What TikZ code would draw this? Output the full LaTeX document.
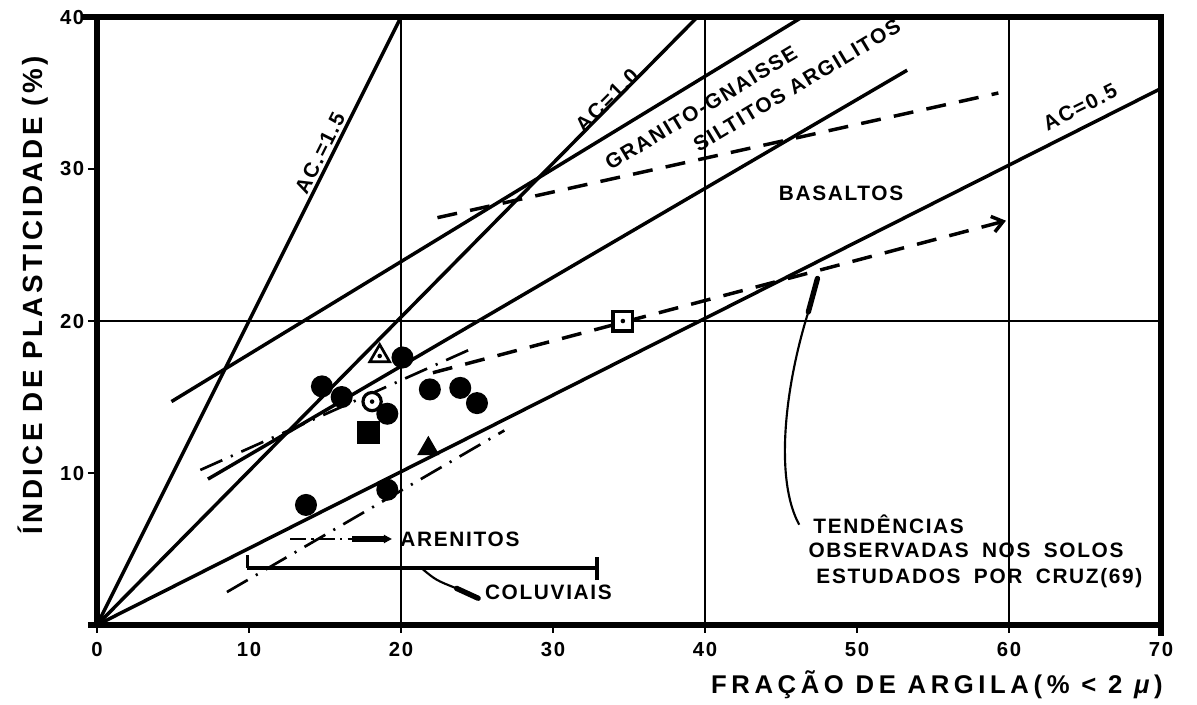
\documentclass[tikz,border=0pt]{standalone}
\usepackage{fontspec}
\setmainfont{Liberation Sans}
\newfontfamily\lblfont{Liberation Sans}[LetterSpace=8]
\newfontfamily\yaxisfont{Liberation Sans}[LetterSpace=12]
\newfontfamily\xaxisfont{Liberation Sans}[LetterSpace=18]
\usetikzlibrary{arrows.meta,shapes.geometric}

\begin{document}
\begin{tikzpicture}[x=0.2cm,y=0.2cm,
    frame/.style={line width=2pt},
    acline/.style={line width=1.3pt},
    gridline/.style={line width=0.6pt},
    leader/.style={line width=0.8pt},
    trend/.style={line width=1.3pt,dash pattern=on 7.5pt off 5pt},
    arenline/.style={line width=1pt,dash pattern=on 9pt off 3.5pt on 0.8pt off 3.5pt},
    lbl/.style={font=\lblfont\bfseries\fontsize{7.8}{9.3}\selectfont,inner sep=0pt},
    ticklbl/.style={font=\lblfont\bfseries\fontsize{7.6}{8}\selectfont,inner sep=0pt},
    soil/.style={circle,fill,inner sep=0pt,minimum size=0.29cm},
    soilsq/.style={rectangle,fill,inner sep=0pt,minimum size=0.3cm},
    soiltri/.style={regular polygon,regular polygon sides=3,fill,inner sep=0pt,minimum size=0.34cm},
    opentri/.style={regular polygon,regular polygon sides=3,draw,line width=1pt,fill=white,inner sep=0pt,minimum size=0.3cm},
    opencirc/.style={circle,draw,line width=1.2pt,fill=white,inner sep=0pt,minimum size=0.24cm},
    opensq/.style={rectangle,draw,line width=1.2pt,fill=white,inner sep=0pt,minimum size=0.26cm},
    pip/.style={circle,fill,inner sep=0pt,minimum size=0.06cm}]
    \useasboundingbox (-6.38,-5.26) rectangle (72.37,41.12);

    % Grid lines
    \draw[gridline] (0,20) -- (70,20);
    \foreach \gx in {20,40,60}
      \draw[gridline] (\gx,0) -- (\gx,40);

    % Frame
    \draw[frame] (-1,40) -- (70,40) -- (70,-0.7);
    \draw[frame] (0,40) -- (0,0);
    \draw[frame] (-0.6,0) -- (70,0);

    % Ticks
    \foreach \t in {10,20,30,40} {
      \draw[gridline] (-0.6,\t) -- (0,\t);
      \node[ticklbl,anchor=east] (yt\t) at (-0.8,\t) {\t};
    }
    \foreach \t in {0,10,...,70} {
      \draw[gridline] (\t,-0.5) -- (\t,0);
      \node[ticklbl] (xt\t) at (\t,-1.64) {\t};
    }

    % Activity lines
    \draw[acline] (0,0) -- (20,40);
    \draw[acline] (0,0) -- (39.5,40);
    \draw[acline] (0,0) -- (70,35.3);
    \node[lbl,rotate=63.4] (ac15) at (14.67,31.05) {AC.=1.5};
    \node[lbl,rotate=45] (ac10) at (33.55,34.54) {AC=1.0};
    \node[lbl,rotate=26.6] (ac05) at (64.67,34.08) {AC=0.5};

    % Rock types
    \draw[acline] (4.9,14.7) -- (46.4,40);
    \draw[acline] (7.3,9.6) -- (53.3,36.5);
    \draw[arenline] (6.8,10.2) -- (24.7,18.2);
    \draw[arenline] (8.55,2.17) -- (26.8,12.8);
    \node[lbl,rotate=31] (granito) at (39.74,34.0) {GRANITO-GNAISSE};
    \node[lbl,rotate=31] (siltito) at (46.05,35.5) {SILTITOS ARGILITOS};
    \node[lbl] (basalto) at (48.95,28.4) {BASALTOS};

    % Trends from Cruz (69)
    \draw[trend] (22.4,26.8) -- (59.3,35.0);
    \draw[trend,-{Straight Barb[length=4pt,width=6pt]}] (22.1,16.6) -- (59.8,26.6);

    % Coluviais range
    \draw[acline] (9.9,3.75) -- (32.9,3.75);
    \draw[acline] (9.9,3.75) -- (9.9,4.6);
    \draw[acline] (32.9,2.95) -- (32.9,4.5);

    % Arenitos and coluviais labels
    \node[lbl] (aren) at (23.88,5.66) {ARENITOS};
    \coordinate (arenfoot) at (12.7,5.66);
    \coordinate (arenmid) at (16.8,5.66);
    \draw[line width=0.7pt,dash pattern=on 6pt off 2pt on 0.8pt off 2pt] (arenfoot) -- (arenmid);
    \draw[line width=2pt,-{Triangle[length=3pt,width=3pt]}] (arenmid) -- ([xshift=-3pt]aren.west);
    \node[lbl] (coluv) at (29.7,2.17) {COLUVIAIS};
    \coordinate (colfoot) at (21.36,3.73);
    \coordinate (colneck) at (23.66,2.41);
    \coordinate (coltip) at (25.08,1.76);
    \draw[leader] (colfoot) .. controls (22.3,2.95) .. (colneck);
    \draw[line width=2pt,line cap=round] (colneck) -- (coltip);

    % Trend label
    \node[lbl,anchor=base west] (tend1) at (47.1,6.05) {TENDÊNCIAS};
    \node[lbl,anchor=base west] (tend2) at (46.78,4.41) {OBSERVADAS\hspace{5pt}NOS\hspace{5pt}SOLOS};
    \node[lbl,anchor=base west] (tend3) at (47.3,2.76) {ESTUDADOS\hspace{5pt}POR\hspace{5pt}CRUZ(69)};
    \coordinate (tendfoot) at (46.2,6.6);
    \coordinate (tendneck) at (46.8,20.6);
    \coordinate (tendtip) at (47.4,22.8);
    \draw[leader] (tendfoot) .. controls (44.6,9.5) and (45.2,15.5) .. (tendneck);
    \draw[line width=2pt,line cap=round] (tendneck) -- (tendtip);

    % Soil samples
    \foreach \px/\py [count=\i] in {20.1/17.6,14.8/15.7,16.1/15.0,19.1/13.9,21.9/15.5,
        23.9/15.6,25.0/14.6,19.1/8.9,13.75/7.9}
      \node[soil] (dot\i) at (\px,\py) {};
    \node[soilsq] (sq) at (17.85,12.68) {};
    \node[soiltri] (tri) at (21.8,11.6) {};
    \node[opentri] (otri) at (18.6,17.7) {};
    \node[pip] (otripip) at (otri.center) {};
    \node[opencirc] (ocirc) at (18.1,14.7) {};
    \node[pip] (ocircpip) at (ocirc.center) {};
    \node[opensq] (osq) at (34.6,20.0) {};
    \node[pip] (osqpip) at (osq.center) {};

    % Axis labels
    \node[font=\yaxisfont\bfseries\fontsize{10.4}{12}\selectfont,inner sep=0pt,rotate=90] (ylabel) at (-4.21,21.7) {ÍNDICE DE PLASTICIDADE (\%)};
    \node[font=\xaxisfont\bfseries\fontsize{9.6}{12}\selectfont,inner sep=0pt] (xlabel) at (55.26,-3.95) {FRAÇÃO DE ARGILA(\% < 2 \textit{μ})};
  \end{tikzpicture}
\end{document}
